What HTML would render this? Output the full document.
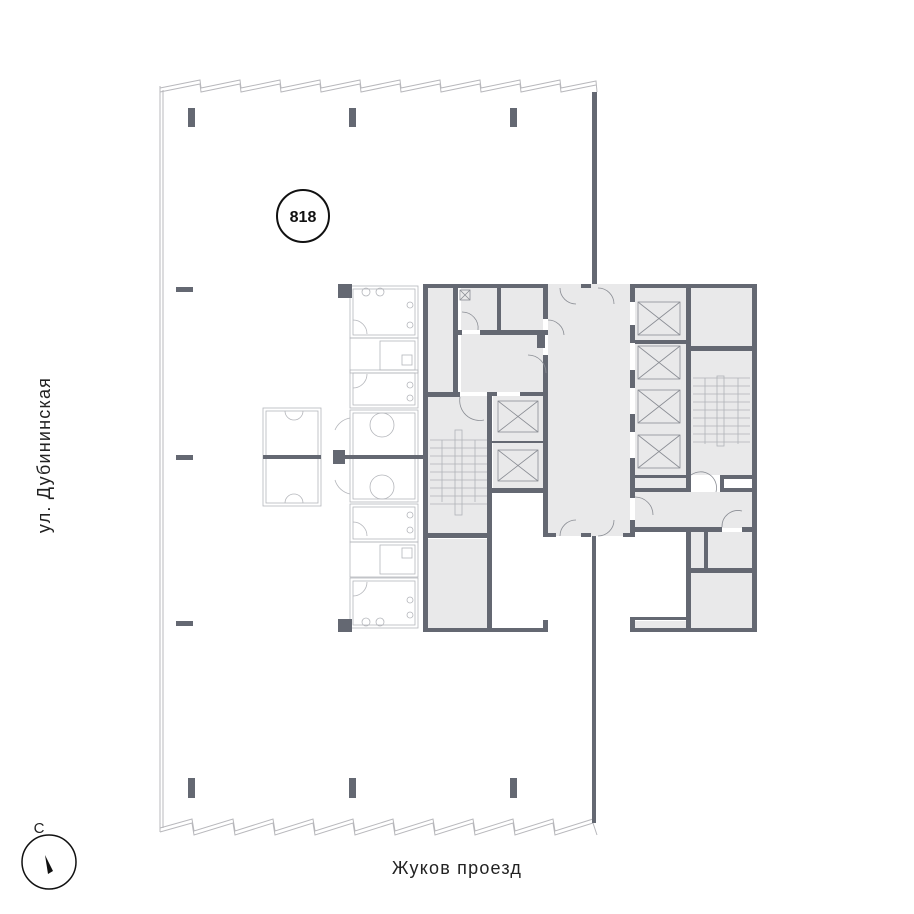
<!DOCTYPE html>
<html><head><meta charset="utf-8"><style>
html,body{margin:0;padding:0;background:#fff;}
svg{display:block}
text{font-family:"Liberation Sans","DejaVu Sans",sans-serif;}
</style></head><body>
<svg width="914" height="914" viewBox="0 0 914 914" xmlns="http://www.w3.org/2000/svg">
<g fill="none" stroke="#b8b8bc" stroke-width="1">
<path d="M160,88 L200,80 L201,88 L240,80 L241,88 L280,80 L281,88 L320,80 L321,88 L360,80 L361,88 L400,80 L401,88 L440,80 L441,88 L480,80 L481,88 L520,80 L521,88 L560,80 L561,88 L596,81 L597,92"/>
<path d="M160,92 L200,84 L201,92 L240,84 L241,92 L280,84 L281,92 L320,84 L321,92 L360,84 L361,92 L400,84 L401,92 L440,84 L441,92 L480,84 L481,92 L520,84 L521,92 L560,84 L561,92 L596,85"/>
<path d="M160,832 L192,823 L194,835 L233,823 L235,835 L273,823 L275,835 L313,823 L315,835 L353,823 L355,835 L393,823 L395,835 L433,823 L435,835 L473,823 L475,835 L513,823 L515,835 L553,823 L555,835 L593,823 L597,835"/>
<path d="M160,828 L192,819 L194,831 L233,819 L235,831 L273,819 L275,831 L313,819 L315,831 L353,819 L355,831 L393,819 L395,831 L433,819 L435,831 L473,819 L475,831 L513,819 L515,831 L553,819 L555,831 L593,819"/>
<line x1="160" y1="86" x2="160" y2="832"/>
<line x1="163" y1="90" x2="163" y2="828"/>
</g>
<g fill="#646872">
<rect x="188" y="108" width="7" height="19"/><rect x="349" y="108" width="7" height="19"/><rect x="510" y="108" width="7" height="19"/>
<rect x="188" y="778" width="7" height="20"/><rect x="349" y="778" width="7" height="20"/><rect x="510" y="778" width="7" height="20"/>
<rect x="176" y="287" width="17" height="5"/><rect x="176" y="455" width="17" height="5"/><rect x="176" y="621" width="17" height="5"/>
<rect x="592" y="92" width="5" height="194"/>
<rect x="592" y="535" width="4" height="288"/>
</g>
<g fill="#e9e9ea">
<rect x="428" y="288" width="28" height="104"/>
<rect x="501" y="288" width="42" height="42"/>
<rect x="461" y="288" width="36" height="42"/>
<rect x="461" y="334" width="82" height="58"/>
<rect x="428" y="396" width="60" height="139"/>
<rect x="428" y="539" width="60" height="89"/>
<rect x="493" y="396" width="50" height="92"/>
<rect x="548" y="284" width="82" height="252"/>
<rect x="635" y="288" width="52" height="200"/>
<rect x="691" y="288" width="61" height="58"/>
<rect x="691" y="351" width="61" height="124"/>
<rect x="635" y="492" width="117" height="36"/>
<rect x="691" y="532" width="61" height="96"/>
<rect x="635" y="621" width="52" height="7"/>
</g>
<g fill="#646872">
<rect x="423" y="284" width="5" height="348"/>
<rect x="423" y="284" width="125" height="4"/>
<rect x="423" y="628" width="125" height="4"/>
<rect x="543" y="620" width="5" height="12"/>
<rect x="453" y="284" width="5" height="108"/>
<rect x="423" y="392" width="37" height="5"/>
<rect x="487" y="395" width="5" height="237"/>
<rect x="423" y="533" width="69" height="5"/>
<rect x="497" y="284" width="4" height="47"/>
<rect x="480" y="330" width="68" height="5"/>
<rect x="457" y="330" width="5" height="5"/>
<rect x="537" y="334" width="8" height="14"/>
<rect x="543" y="284" width="5" height="35"/>
<rect x="543" y="355" width="5" height="181"/>
<rect x="487" y="392" width="10" height="4"/>
<rect x="520" y="392" width="28" height="4"/>
<rect x="487" y="441" width="56" height="2"/>
<rect x="487" y="488" width="61" height="5"/>
<rect x="543" y="533" width="13" height="4"/>
<rect x="581" y="533" width="10" height="4"/>
<rect x="623" y="533" width="12" height="4"/>
<rect x="581" y="284" width="10" height="4"/>
<rect x="630" y="284" width="126" height="4"/>
<rect x="630" y="284" width="5" height="18"/>
<rect x="630" y="325" width="5" height="18"/>
<rect x="630" y="370" width="5" height="18"/>
<rect x="630" y="414" width="5" height="18"/>
<rect x="630" y="458" width="5" height="40"/>
<rect x="630" y="520" width="5" height="16"/>
<rect x="635" y="340" width="52" height="4"/>
<rect x="686" y="284" width="5" height="208"/>
<rect x="635" y="475" width="52" height="3"/>
<rect x="630" y="488" width="60" height="4"/>
<rect x="691" y="346" width="62" height="5"/>
<rect x="752" y="284" width="5" height="348"/>
<rect x="720" y="475" width="36" height="4"/>
<rect x="720" y="475" width="4" height="17"/>
<rect x="720" y="488" width="36" height="4"/>
<rect x="630" y="527" width="92" height="5"/>
<rect x="742" y="527" width="14" height="5"/>
<rect x="686" y="527" width="5" height="105"/>
<rect x="704" y="530" width="4" height="40"/>
<rect x="686" y="568" width="70" height="5"/>
<rect x="630" y="628" width="126" height="4"/>
<rect x="630" y="617" width="5" height="15"/>
<rect x="635" y="617" width="52" height="3"/>
</g>
<g fill="none" stroke="#8a8d94" stroke-width="0.8">
<rect x="638" y="302" width="42" height="33"/><path d="M638,302 L680,335 M680,302 L638,335"/>
<rect x="638" y="346" width="42" height="33"/><path d="M638,346 L680,379 M680,346 L638,379"/>
<rect x="638" y="390" width="42" height="33"/><path d="M638,390 L680,423 M680,390 L638,423"/>
<rect x="638" y="435" width="42" height="33"/><path d="M638,435 L680,468 M680,435 L638,468"/>
<rect x="498" y="401" width="40" height="31"/><path d="M498,401 L538,432 M538,401 L498,432"/>
<rect x="498" y="450" width="40" height="31"/><path d="M498,450 L538,481 M538,450 L498,481"/>
<rect x="460" y="290" width="10" height="10"/><path d="M460,290 L470,300 M470,290 L460,300"/>
<g stroke="#b0b2b8">
<rect x="455" y="430" width="7" height="85"/>
<path d="M430,440H487M430,448H487M430,456H487M430,464H487M430,472H487M430,480H487M430,488H487M430,496H487M430,504H487"/>
<path d="M442,440V502M475,440V502"/>
<rect x="717" y="376" width="7" height="70"/>
<path d="M693,378H750M693,386H750M693,394H750M693,402H750M693,410H750M693,418H750M693,426H750M693,434H750M693,442H750"/>
<path d="M705,378V444M738,378V444"/>
</g>
<path d="M560,288 A16,16 0 0 0 576,304 M598,288 A16,16 0 0 1 614,304"/>
<path d="M560,536 A16,16 0 0 1 576,520 M598,536 A16,16 0 0 0 614,520"/>
<path d="M548,320 A16,16 0 0 1 564,335"/>
<path d="M528,355 A18,18 0 0 1 546,373"/>
<path d="M462,312 A16,16 0 0 1 478,330"/>
<path d="M460,397 A20,20 0 0 0 484,420"/>
<path d="M691,475 A16,16 0 0 1 716,492"/>
<path d="M635,497 A18,18 0 0 1 653,515"/>
<path d="M722,527 A16,16 0 0 1 742,511"/>
</g>
<g fill="none" stroke="#b4b6bb" stroke-width="0.8">
<rect x="350" y="286" width="68" height="52"/><rect x="353" y="289" width="62" height="46"/>
<rect x="350" y="338" width="68" height="35"/><rect x="380" y="341" width="35" height="29"/>
<rect x="350" y="370" width="68" height="38"/><rect x="353" y="373" width="62" height="32"/>
<rect x="350" y="410" width="68" height="92"/><rect x="353" y="413" width="62" height="86"/>
<rect x="350" y="504" width="68" height="38"/><rect x="353" y="507" width="62" height="32"/>
<rect x="350" y="542" width="68" height="35"/><rect x="380" y="545" width="35" height="29"/>
<rect x="350" y="578" width="68" height="50"/><rect x="353" y="581" width="62" height="44"/>
<rect x="263" y="408" width="58" height="98"/><rect x="266" y="411" width="52" height="92"/>
<circle cx="382" cy="425" r="12"/><circle cx="382" cy="487" r="12"/>
<circle cx="366" cy="292" r="4"/><circle cx="380" cy="292" r="4"/>
<circle cx="366" cy="622" r="4"/><circle cx="380" cy="622" r="4"/>
<path d="M353,320 A14,14 0 0 1 367,334 M353,388 A14,14 0 0 0 367,374 M353,522 A14,14 0 0 1 367,536 M353,596 A14,14 0 0 0 367,582"/>
<path d="M335,430 A20,20 0 0 1 350,418 M335,480 A20,20 0 0 0 350,494"/>
<path d="M285,411 A9,9 0 0 0 303,411 M285,503 A9,9 0 0 1 303,503"/>
<circle cx="410" cy="305" r="3"/><circle cx="410" cy="325" r="3"/><circle cx="410" cy="385" r="3"/><circle cx="410" cy="398" r="3"/>
<circle cx="410" cy="515" r="3"/><circle cx="410" cy="530" r="3"/><circle cx="410" cy="600" r="3"/><circle cx="410" cy="615" r="3"/>
<rect x="402" y="355" width="10" height="10"/><rect x="402" y="548" width="10" height="10"/>
</g>
<g fill="#646872">
<rect x="338" y="284" width="14" height="14"/>
<rect x="338" y="619" width="14" height="13"/>
<rect x="333" y="450" width="12" height="14"/>
<rect x="345" y="455" width="80" height="4"/>
<rect x="263" y="455" width="58" height="4"/>
</g>
<circle cx="303" cy="216" r="26" fill="none" stroke="#111" stroke-width="2"/>
<text x="303" y="222" font-size="16" font-weight="bold" text-anchor="middle" fill="#111">818</text>
<text transform="translate(50,455) rotate(-90)" font-size="18" letter-spacing="1.2" text-anchor="middle" fill="#222">ул. Дубининская</text>
<text x="457" y="874" font-size="18" letter-spacing="1.2" text-anchor="middle" fill="#222">Жуков проезд</text>
<text x="39" y="833" font-size="15" text-anchor="middle" fill="#222">С</text>
<circle cx="49" cy="862" r="27" fill="none" stroke="#111" stroke-width="1.5"/>
<polygon points="45,855 53,871 48,874" fill="#111"/>
</svg>
</body></html>
